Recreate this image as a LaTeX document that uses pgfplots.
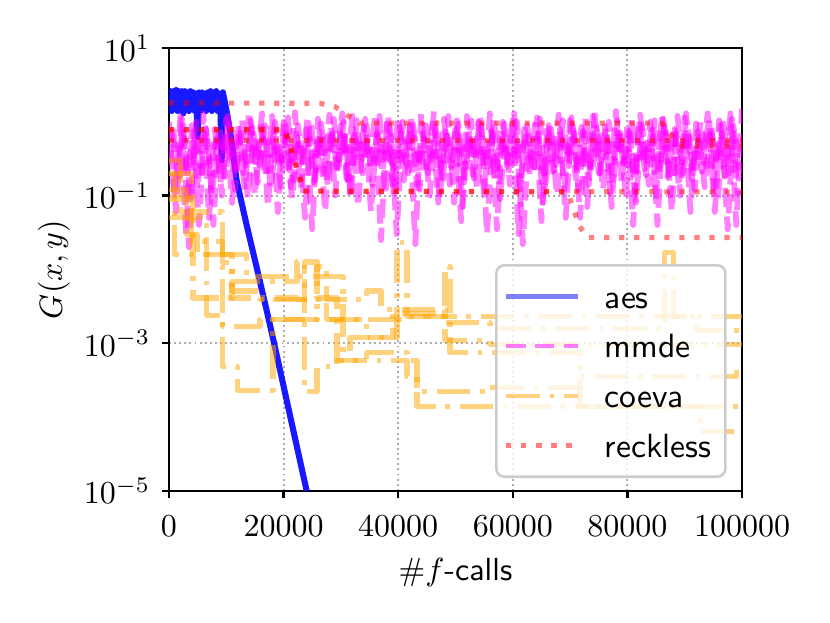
\documentclass[border=0pt]{standalone}
\usepackage{pgfplots}
\pgfplotsset{compat=1.18}
\definecolor{mplorange}{RGB}{255,165,0}
\definecolor{mplmagenta}{RGB}{255,0,255}
\definecolor{mplblue}{RGB}{0,0,255}
\definecolor{mplred}{RGB}{255,0,0}
\begin{document}
\begin{tikzpicture}
\begin{axis}[
  at={(0pt,0pt)}, anchor=south west,
  scale only axis, width=179.1pt, height=138.4pt,
  xmin=0, xmax=100000, ymin=1e-5, ymax=10,
  ymode=log,
  xtick={0,20000,40000,60000,80000,100000},
  ytick={1e1,1e-1,1e-3,1e-5},
  yminorticks=false,
  scaled x ticks=false,
  xticklabel style={/pgf/number format/fixed,/pgf/number format/1000 sep={}, yshift=-1.9pt},
  ylabel shift=-2.5pt,
  tick align=outside, major tick length=2.3pt,
  tick style={black, line width=0.8pt},
  axis line style={line width=0.8pt},
  tick pos=left,
  grid=major,
  grid style={black!32, line width=0.6pt, dash pattern=on 0.6pt off 1.0pt},
  xlabel={$\#f$\textsf{-calls}},
  ylabel={$G(x,y)$},
  legend style={at={(rel axis cs:1,0)}, anchor=south east, xshift=-4.8pt, yshift=4pt,
    draw=black!20, line width=0.8pt, rounded corners=2.5pt, fill=white, fill opacity=0.8,
    text opacity=1, font=\sffamily\fontsize{10.5}{12.6}\selectfont, inner xsep=2.4pt, inner ysep=2.6pt, row sep=1.2pt,
    cells={anchor=west}},
  legend image code/.code={\draw[#1] (1.2pt,0pt) -- (23.7pt,0pt); \path (29.3pt,0pt);},
  every axis plot/.append style={line join=round},
]
% aes
\addplot[mplblue, opacity=0.9, line width=1.9pt, forget plot] coordinates {
(0,1.9)(250,2.6)(500,1.4)(750,2.6)(1000,1.5)(1250,2.7)(1500,1.4)(1750,2.6)(2000,1.6)(2250,2.6)
(2500,1.3)(2750,2.6)(3000,1.5)(3250,2.5)(3500,1.4)(3750,2.6)(4000,1.6)(4250,2.5)(4500,1.4)(4750,2.4)
(5000,0.62)(5250,2.5)(5500,1.4)(5750,2.5)(6000,1.6)(6250,2.4)(6500,1.4)(6750,2.5)(7000,1.5)(7250,2.6)
(7500,1.4)(7750,2.5)(8000,1.5)(8250,2.6)(8500,1.4)(8750,2.4)(9000,1.3)(9200,0.3)(9400,2.51)(9800,1.78)
(10400,1.0)(11000,0.5)(11800,0.162)(12400,0.1)(13500,0.0417)(15300,0.0107)(17600,0.00182)(19400,0.000427)
(21700,6.6e-5)(24030,1e-5)(24500,7e-6)};
% mmde
\addplot[mplmagenta, opacity=0.5, line width=1.8pt, dash pattern=on 6pt off 3pt, forget plot] coordinates {
(0,1.0)(1000,0.09)(2000,1.2)(3000,0.03)(4000,0.9)(5000,0.12)(6000,1.3)(7000,0.05)(8000,0.8)(9000,0.15)
(10000,1.1)(11000,0.08)(12000,0.95)(13000,0.2)(14000,1.4)(15000,0.1)(16000,0.85)(17000,0.18)(18000,1.2)(19000,0.06)
(20000,1.0)(21000,0.22)(22000,1.35)(23000,0.12)(24000,0.8)(25000,0.035)(26000,1.1)(27000,0.2)(28000,1.25)(29000,0.1)
(30000,0.9)(31000,0.17)(32000,1.2)(33000,0.07)(34000,0.85)(35000,0.25)(36000,1.3)(37000,0.025)(38000,0.95)(39000,0.14)
(40000,1.2)(41000,0.16)(42000,0.9)(43000,0.022)(44000,1.3)(45000,0.21)(46000,0.95)(47000,0.08)(48000,1.1)(49000,0.14)
(50000,0.8)(51000,0.045)(52000,1.2)(53000,0.19)(54000,1.0)(55000,0.1)(56000,1.3)(57000,0.16)(58000,0.85)(59000,0.25)
(60000,1.2)(61000,0.03)(62000,0.95)(63000,0.18)(64000,1.15)(65000,0.045)(66000,0.9)(67000,0.21)(68000,1.25)(69000,0.12)
(70000,1.05)(71000,0.17)(72000,0.85)(73000,0.07)(74000,1.2)(75000,0.2)(76000,0.95)(77000,0.11)(78000,1.4)(79000,0.15)
(80000,0.9)(81000,0.04)(82000,1.1)(83000,0.23)(84000,1.0)(85000,0.09)(86000,1.25)(87000,0.18)(88000,0.8)(89000,0.13)
(90000,1.15)(91000,0.06)(92000,0.95)(93000,0.21)(94000,1.3)(95000,0.12)(96000,1.05)(97000,0.18)(98000,1.3)(99000,0.04)(100000,1.5)};
\addplot[mplmagenta, opacity=0.5, line width=1.8pt, dash pattern=on 6pt off 3pt, forget plot] coordinates {
(500,0.7)(1500,0.2)(2500,0.9)(3500,0.02)(4500,0.6)(5500,0.25)(6500,0.8)(7500,0.1)(8500,0.65)(9500,0.3)
(10500,0.95)(11500,0.12)(12500,0.7)(13500,0.28)(14500,0.85)(15500,0.15)(16500,0.6)(17500,0.3)(18500,1.0)(19500,0.13)
(20500,0.7)(21500,0.09)(22500,0.9)(23500,0.26)(24500,0.6)(25500,0.16)(26500,0.95)(27500,0.3)(28500,0.7)(29500,0.2)
(30500,1.0)(31500,0.11)(32500,0.62)(33500,0.27)(34500,0.88)(35500,0.14)(36500,0.66)(37500,0.32)(38500,0.9)(39500,0.12)
(40500,0.7)(41500,0.25)(42500,1.0)(43500,0.3)(44500,0.6)(45500,0.1)(46500,0.85)(47500,0.22)(48500,0.66)(49500,0.3)
(50500,0.95)(51500,0.15)(52500,0.6)(53500,0.3)(54500,0.9)(55500,0.03)(56500,0.7)(57500,0.24)(58500,0.95)(59500,0.14)
(60500,0.65)(61500,0.3)(62500,0.9)(63500,0.2)(64500,0.7)(65500,0.11)(66500,1.0)(67500,0.26)(68500,0.6)(69500,0.33)
(70500,0.88)(71500,0.12)(72500,0.7)(73500,0.25)(74500,0.95)(75500,0.3)(76500,0.62)(77500,0.14)(78500,0.85)(79500,0.27)
(80500,0.7)(81500,0.08)(82500,0.9)(83500,0.3)(84500,0.65)(85500,0.18)(86500,1.0)(87500,0.1)(88500,0.7)(89500,0.28)
(90500,0.9)(91500,0.2)(92500,0.64)(93500,0.13)(94500,0.95)(95500,0.3)(96500,0.7)(97500,0.035)(98500,0.88)(99500,0.22)};
\addplot[mplmagenta, opacity=0.5, line width=1.8pt, dash pattern=on 6pt off 3pt, forget plot] coordinates {
(250,0.5)(1250,0.06)(2250,1.1)(3250,0.2)(4250,0.75)(5250,0.04)(6250,1.0)(7250,0.25)(8250,0.6)(9250,0.1)
(10250,1.2)(11250,0.3)(12250,0.7)(13250,0.12)(14250,1.05)(15250,0.25)(16250,1.3)(17250,0.07)(18250,0.75)(19250,0.2)
(20250,1.1)(21250,0.13)(22250,0.7)(23250,0.28)(24250,1.2)(25250,0.15)(26250,0.8)(27250,0.06)(28250,0.9)(29250,0.24)
(30250,1.3)(31250,0.13)(32250,0.8)(33250,0.3)(34250,1.1)(35250,0.06)(36250,0.7)(37250,0.2)(38250,1.25)(39250,0.1)
(40250,0.85)(41250,0.28)(42250,1.15)(43250,0.14)(44250,0.7)(45250,0.2)(46250,1.4)(47250,0.09)(48250,0.75)(49250,0.24)
(50250,1.05)(51250,0.07)(52250,0.85)(53250,0.17)(54250,1.25)(55250,0.24)(56250,0.75)(57250,0.035)(58250,1.0)(59250,0.2)
(60250,1.3)(61250,0.12)(62250,0.7)(63250,0.28)(64250,1.15)(65250,0.08)(66250,0.9)(67250,0.22)(68250,0.8)(69250,0.05)
(70250,1.15)(71250,0.25)(72250,0.75)(73250,0.14)(74250,1.35)(75250,0.2)(76250,0.85)(77250,0.07)(78250,1.05)(79250,0.27)
(80250,0.75)(81250,0.11)(82250,1.25)(83250,0.19)(84250,0.9)(85250,0.04)(86250,1.1)(87250,0.25)(88250,0.8)(89250,0.1)
(90250,1.3)(91250,0.17)(92250,0.75)(93250,0.28)(94250,1.15)(95250,0.06)(96250,0.9)(97250,0.22)(98250,1.1)(99250,0.1)};
\addplot[mplmagenta, opacity=0.5, line width=1.8pt, dash pattern=on 6pt off 3pt, forget plot] coordinates {
(750,0.8)(1750,0.15)(2750,0.6)(3750,0.08)(4750,1.0)(5750,0.2)(6750,0.55)(7750,0.04)(8750,0.9)(9750,0.18)
(10750,0.6)(11750,0.22)(12750,1.1)(13750,0.09)(14750,0.7)(15750,0.26)(16750,0.9)(17750,0.12)(18750,0.65)(19750,0.3)
(20750,1.15)(21750,0.16)(22750,0.6)(23750,0.05)(24750,1.0)(25750,0.22)(26750,0.7)(27750,0.13)(28750,1.1)(29750,0.28)
(30750,0.65)(31750,0.09)(32750,1.05)(33750,0.2)(34750,0.6)(35750,0.3)(36750,1.2)(37750,0.1)(38750,0.7)(39750,0.03)
(40750,1.0)(41750,0.2)(42750,0.62)(43750,0.12)(44750,1.1)(45750,0.3)(46750,0.7)(47750,0.15)(48750,1.2)(49750,0.08)
(50750,0.66)(51750,0.25)(52750,1.05)(53750,0.12)(54750,0.6)(55750,0.2)(56750,1.15)(57750,0.09)(58750,0.7)(59750,0.3)
(60750,1.0)(61750,0.022)(62750,0.65)(63750,0.24)(64750,1.1)(65750,0.15)(66750,0.6)(67750,0.1)(68750,1.05)(69750,0.25)
(70750,0.7)(71750,0.05)(72750,1.2)(73750,0.2)(74750,0.64)(75750,0.12)(76750,1.0)(77750,0.3)(78750,0.7)(79750,0.09)
(80750,1.15)(81750,0.22)(82750,0.6)(83750,0.14)(84750,1.05)(85750,0.3)(86750,0.7)(87750,0.06)(88750,1.2)(89750,0.2)
(90750,0.65)(91750,0.12)(92750,1.0)(93750,0.25)(94750,0.7)(95750,0.08)(96750,1.1)(97750,0.2)(98750,0.62)(99750,0.3)};
% coeva
\addplot[mplorange, opacity=0.5, line width=1.6pt, const plot, dash pattern=on 10.5pt off 3pt on 1.5pt off 3pt, forget plot] coordinates {
(0,0.2)(1000,0.016)(11000,0.0051)(15880,0.0039)(27570,0.0021)(41540,0.0023)(100000,0.0023)};
\addplot[mplorange, opacity=0.5, line width=1.6pt, const plot, dash pattern=on 10.5pt off 3pt on 1.5pt off 3pt, forget plot] coordinates {
(0,0.09)(4190,0.0041)(11000,0.0068)(13610,0.0068)(22340,0.0126)(23730,0.00022)(25830,0.00048)(29320,0.00059)(35600,0.00059)(41540,0.00035)(43280,0.000138)(100000,0.000138)};
\addplot[mplorange, opacity=0.5, line width=1.6pt, const plot, dash pattern=on 10.5pt off 3pt on 1.5pt off 3pt, forget plot] coordinates {
(0,0.05)(6630,0.0024)(9420,0.00048)(12040,0.00023)(18150,0.0021)(34550,0.0012)(39090,0.0025)(48170,0.0011)(56020,0.00096)(100000,0.00096)};
\addplot[mplorange, opacity=0.5, line width=1.6pt, const plot, dash pattern=on 10.5pt off 3pt on 1.5pt off 3pt, forget plot] coordinates {
(0,0.12)(3000,0.03)(5000,0.016)(13610,0.0081)(25830,0.0081)(30370,0.00074)(31590,0.0012)(39790,0.023)(41540,0.0023)(48170,0.011)(49040,0.00075)(71730,0.00014)(92670,0.000063)(100000,0.000063)};
\addplot[mplorange, opacity=0.5, line width=1.6pt, const plot, dash pattern=on 10.5pt off 3pt on 1.5pt off 3pt, forget plot] coordinates {
(0,0.3)(2000,0.06)(9420,0.0017)(15880,0.0021)(25830,0.011)(27570,0.0039)(34550,0.0051)(37000,0.0029)(48170,0.0019)(56020,0.0016)(86500,0.0168)(88000,0.0023)(92000,0.0015)(100000,0.0015)};
\addplot[mplorange, opacity=0.5, line width=1.6pt, const plot, dash pattern=on 10.5pt off 3pt on 1.5pt off 3pt, forget plot] coordinates {
(0,0.2)(4000,0.024)(9420,0.0124)(11000,0.0041)(22340,0.0039)(23730,0.0126)(25830,0.0041)(29320,0.00059)(34550,0.00074)(41540,0.00059)(43280,0.00022)(56020,0.00025)(71730,0.00035)(99000,0.00048)(100000,0.00048)};
% reckless
\addplot[mplred, opacity=0.5, line width=1.6pt, dash pattern=on 1.6pt off 3.1pt, forget plot] coordinates {
(0,1.8)(26350,1.78)(29000,1.6)(31300,1.2)(33300,0.96)(86000,0.96)(87800,0.63)(89500,0.47)(100000,0.47)};
\addplot[mplred, opacity=0.5, line width=1.6pt, dash pattern=on 1.6pt off 3.1pt, forget plot] coordinates {
(0,0.78)(20250,0.78)(21100,0.5)(22000,0.28)(22800,0.18)(23400,0.115)(100000,0.112)};
\addplot[mplred, opacity=0.5, line width=1.6pt, dash pattern=on 1.6pt off 3.1pt, forget plot] coordinates {
(0,0.56)(100000,0.56)};
\addplot[mplred, opacity=0.5, line width=1.6pt, dash pattern=on 1.6pt off 3.1pt, forget plot] coordinates {
(0,0.78)(20250,0.78)(21100,0.5)(22000,0.28)(22800,0.18)(23400,0.115)(69500,0.112)(70500,0.07)(71500,0.04)(73000,0.027)(100000,0.027)};
% legend
\addlegendimage{mplblue, opacity=0.5, line width=1.4pt}
\addlegendentry{\strut aes}
\addlegendimage{mplmagenta, opacity=0.5, line width=1.4pt, dash pattern=on 6pt off 3pt}
\addlegendentry{\strut mmde}
\addlegendimage{mplorange, opacity=0.5, line width=1.4pt, dash pattern=on 10.5pt off 3pt on 1.5pt off 3pt}
\addlegendentry{\strut coeva}
\addlegendimage{mplred, opacity=0.5, line width=1.4pt, dash pattern=on 1.6pt off 3.1pt}
\addlegendentry{\strut reckless}
\end{axis}
\pgfresetboundingbox
\path[use as bounding box] (-52.8pt,-41.25pt) rectangle (206.6pt,153.4pt);
\end{tikzpicture}
\end{document}
